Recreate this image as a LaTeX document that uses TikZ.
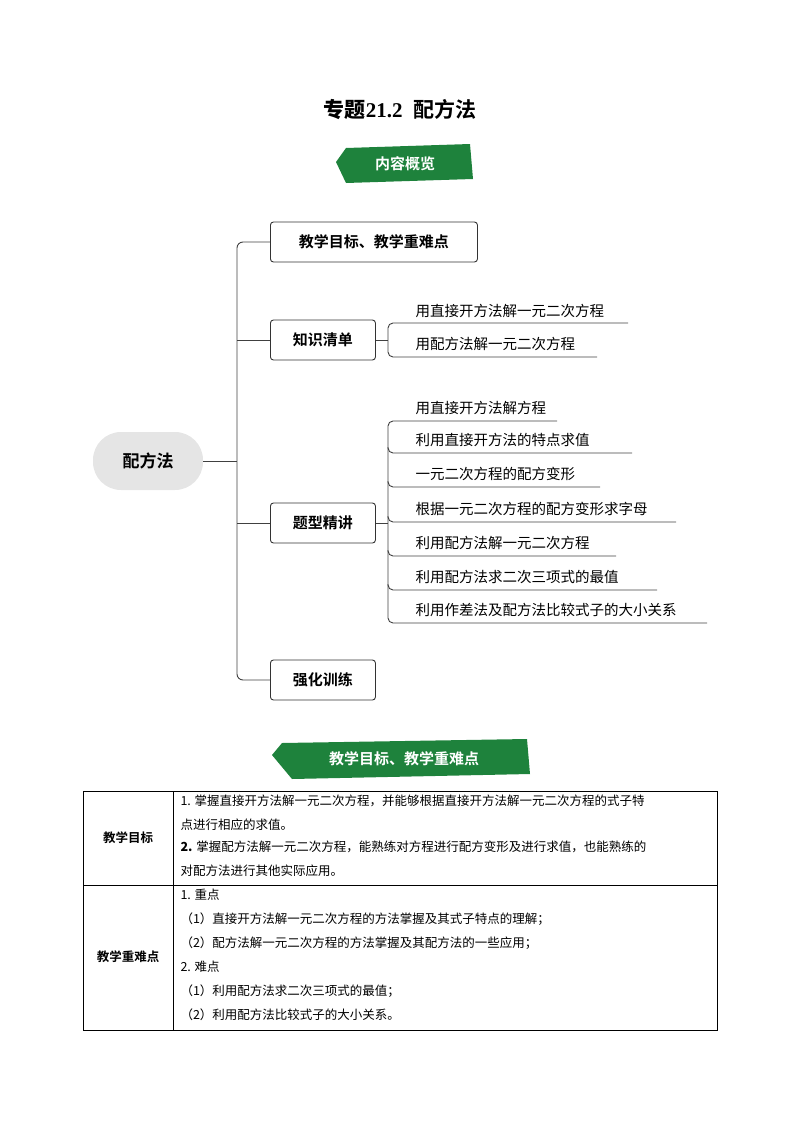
\documentclass[tikz,border=0pt]{standalone}
\usepackage{fontspec}
\setmainfont{Liberation Serif}
\newfontfamily\cjk{Noto Sans CJK SC}
\newfontfamily\cjkb{Noto Sans CJK SC Bold}
\definecolor{bgreen}{RGB}{30,130,60}
\tikzset{
 box/.style={draw=black!80,rounded corners=3pt,line width=0.9pt,minimum height=40pt,anchor=west,inner xsep=8pt,font=\cjkb\fontsize{15}{18}\selectfont},
 item/.style={anchor=west,font=\cjk\fontsize{14.5}{17}\selectfont},
 ln/.style={draw=black!75,line width=0.9pt},
 cell/.style={anchor=west,font=\cjk\fontsize{12.5}{15}\selectfont},
 banner/.style={fill=bgreen}
}
\begin{document}
\begin{tikzpicture}[x=1pt,y=-1pt]
\useasboundingbox (0,0) rectangle (800,1132);
\node (title) at (400,110) {\fontsize{21}{25}\selectfont\textbf{\cjkb 专题}\textbf{21.2\ \ }{\cjkb 配方法}};
% banner 1
\fill[banner] (346,148) -- (470,144) -- (473,179) -- (346,183) -- (336,162) -- cycle;
\node[white,font=\cjkb\fontsize{15}{18}\selectfont] (b1) at (405,164) {内容概览};
% root
\node[fill=black!10,rounded corners=28pt,minimum width=110pt,minimum height=58pt,font=\cjkb\fontsize{17}{20}\selectfont] (root) at (148,461) {配方法};
\node[box,minimum width=207pt] (a) at (270,242) {教学目标、教学重难点};
\node[box,minimum width=105pt] (k) at (270,340) {知识清单};
\node[box,minimum width=105pt] (t) at (270,523) {题型精讲};
\node[box,minimum width=105pt] (q) at (270,680) {强化训练};
\draw[ln] (root.east) -- (237,461);
\draw[ln,rounded corners=6pt] (a.west) -- (237,242) -- (237,680) -- (q.west);
\draw[ln] (237,340) -- (k.west);
\draw[ln] (237,523) -- (t.west);
% knowledge items
\coordinate (kx) at (388,340);
\draw[ln] (k.east) -- (kx);
\draw[ln,rounded corners=5pt] (628,323) -- (388,323) -- (388,357) -- (597,357);
\node[item] (k1) at (412,311) {用直接开方法解一元二次方程};
\node[item] (k2) at (412,344) {用配方法解一元二次方程};
% question types
\draw[ln] (t.east) -- (388,523);
\draw[ln,rounded corners=5pt] (557,421) -- (388,421) -- (388,623) -- (707,623);
\foreach \y/\e in {453/632,487/600,522/676,556/616,590/657}{\draw[ln,rounded corners=5pt] (388,\y-6) -- (388,\y) -- (\e,\y);}
\node[item] (t1) at (412,408) {用直接开方法解方程};
\node[item] (t2) at (412,440) {利用直接开方法的特点求值};
\node[item] (t3) at (412,474) {一元二次方程的配方变形};
\node[item] (t4) at (412,509) {根据一元二次方程的配方变形求字母};
\node[item] (t5) at (412,543) {利用配方法解一元二次方程};
\node[item] (t6) at (412,577) {利用配方法求二次三项式的最值};
\node[item] (t7) at (412,610) {利用作差法及配方法比较式子的大小关系};
% banner 2
\fill[banner] (282,743) -- (527,739) -- (530,774) -- (292,779) -- (272,755) -- cycle;
\node[white,font=\cjkb\fontsize{15}{18}\selectfont] (b2) at (404,759) {教学目标、教学重难点};
% table
\draw[line width=0.9pt] (83,791) rectangle (717,1030);
\draw[line width=0.7pt] (173,791) -- (173,1030) (83,885) -- (717,885);
\node[font=\cjkb\fontsize{12.5}{15}\selectfont] (h1) at (128,838) {教学目标};
\node[font=\cjkb\fontsize{12.5}{15}\selectfont] (h2) at (128,957) {教学重难点};
\node[cell] (c1) at (177,801) {1. 掌握直接开方法解一元二次方程，并能够根据直接开方法解一元二次方程的式子特};
\node[cell] (c2) at (177,825) {点进行相应的求值。};
\node[cell] (c3) at (177,847) {\textbf{2.} 掌握配方法解一元二次方程，能熟练对方程进行配方变形及进行求值，也能熟练的};
\node[cell] (c4) at (177,871) {对配方法进行其他实际应用。};
\node[cell] (d1) at (177,895) {1. 重点};
\node[cell] (d2) at (177,919) {（1）直接开方法解一元二次方程的方法掌握及其式子特点的理解；};
\node[cell] (d3) at (177,943) {（2）配方法解一元二次方程的方法掌握及其配方法的一些应用；};
\node[cell] (d4) at (177,967) {2. 难点};
\node[cell] (d5) at (177,991) {（1）利用配方法求二次三项式的最值；};
\node[cell] (d6) at (177,1015) {（2）利用配方法比较式子的大小关系。};
\end{tikzpicture}
\end{document}
